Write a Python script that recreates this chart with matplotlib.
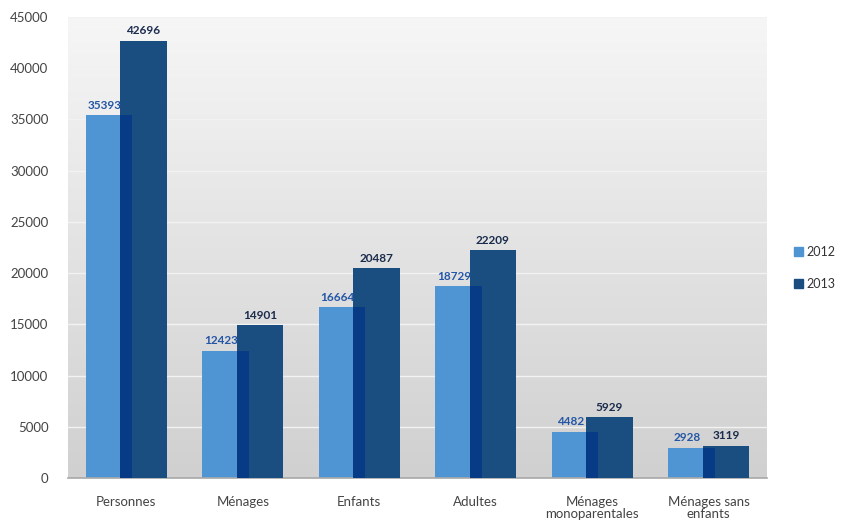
import numpy as np
from matplotlib import pyplot as plt
from matplotlib.patches import Patch

plt.rcParams['font.family'] = ['Lato', 'DejaVu Sans']

categories = ['Personnes', 'Ménages', 'Enfants', 'Adultes',
              'Ménages\nmonoparentales', 'Ménages sans\nenfants']
vals_2012 = [35393, 12423, 16664, 18729, 4482, 2928]
vals_2013 = [42696, 14901, 20487, 22209, 5929, 3119]

c2012 = '#4f94d3'
c2013 = '#1b4e80'
c_overlap = '#083b85'

fig = plt.figure(figsize=(8.42, 5.2), dpi=100)
ax = fig.add_axes([68/842, 1-478/520, (767-68)/842, (478-17)/520])

x = np.arange(len(categories))
w = 0.395
off = 0.148

# gray gradient behind the bars
grad = np.linspace(0, 1, 256).reshape(-1, 1)
ax.imshow(grad, extent=(-0.5, 5.5, 0, 45000), aspect='auto',
          cmap=plt.matplotlib.colors.LinearSegmentedColormap.from_list('bg', ['#f6f6f6', '#d0d0d0']),
          origin='upper', zorder=0)

for yv in range(5000, 45001, 5000):
    ax.axhline(yv, color='#f2f2f2', lw=1, zorder=1)

ax.bar(x - off, vals_2012, w, color=c2012, zorder=2)
ax.bar(x + off, vals_2013, w, color=c2013, zorder=3)
# darker strip where the two bars overlap
lo = x + off - w/2
hi = x - off + w/2
ax.bar((lo + hi)/2, np.minimum(vals_2012, vals_2013), hi - lo, color=c_overlap, zorder=4)

for xi, v in zip(x, vals_2012):
    ax.text(xi - off - 0.04, v + 450, str(v), ha='center', va='bottom',
            fontsize=8.5, fontweight='bold', color='#2456a6', zorder=5)
for xi, v in zip(x, vals_2013):
    ax.text(xi + off, v + 450, str(v), ha='center', va='bottom',
            fontsize=8.5, fontweight='bold', color='#1a2b4c', zorder=5)

ax.set_xlim(-0.5, 5.5)
ax.set_ylim(0, 45000)
ax.set_yticks(range(0, 45001, 5000))
ax.set_xticks(x)
ax.set_xticklabels(categories, fontsize=9.5, color='#444444', linespacing=1.0)
ax.tick_params(axis='y', labelsize=9.5, labelcolor='#444444', length=0, pad=14)
ax.tick_params(axis='x', length=0, pad=13)
for s in ['top', 'right', 'left']:
    ax.spines[s].set_visible(False)
ax.spines['bottom'].set_color('#a8a8a8')
ax.spines['bottom'].set_linewidth(1.2)

handles = [Patch(color=c2012, label='2012'), Patch(color=c2013, label='2013')]
fig.legend(handles=handles, loc='center left', bbox_to_anchor=(783/842, 1-268/520),
           frameon=False, fontsize=9, handlelength=0.7, handleheight=0.7,
           handletextpad=0.3, labelspacing=1.6, labelcolor='#333333')

plt.savefig('out.png', dpi=100)
